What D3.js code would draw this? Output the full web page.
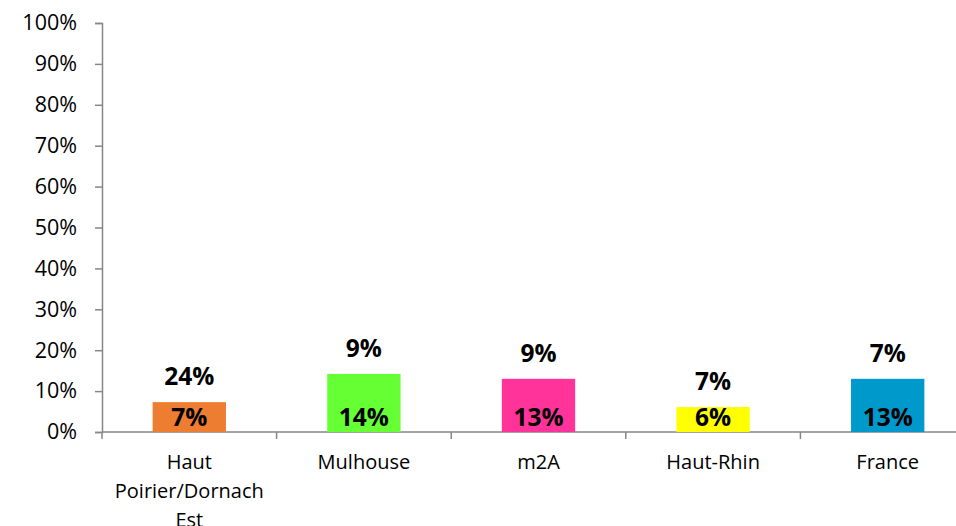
<!DOCTYPE html>
<html>
<head>
<meta charset="utf-8">
<script src="https://cdn.jsdelivr.net/npm/d3@7"></script>
<style>
  body { margin: 0; background: #fff; }
  svg { display: block; font-family: "Open Sans", sans-serif; }
</style>
</head>
<body>
<div id="chart"></div>
<script>
// data
const categories = ["Haut Poirier/Dornach Est", "Mulhouse", "m2A", "Haut-Rhin", "France"]
const barValues = [0.073, 0.142, 0.13, 0.061, 0.13]
const barLabels = ["7%", "14%", "13%", "6%", "13%"]
const topLabels = ["24%", "9%", "9%", "7%", "7%"]
const barColors = ["#ED7D31", "#66FF33", "#FF3399", "#FFFF00", "#0099CC"]
const yTicks = [0, 0.1, 0.2, 0.3, 0.4, 0.5, 0.6, 0.7, 0.8, 0.9, 1]

const width = 956, height = 526
const svg = d3.select("#chart").append("svg").attr("width", width).attr("height", height)

const x = d3.scaleBand().domain(categories).range([102, 975]).paddingInner(0).paddingOuter(0)
const y = d3.scaleLinear().domain([0, 1]).range([432, 23])
const barW = x.bandwidth() * 0.42
const axisColor = "#868686"

// y axis
const yAxis = svg.append("g").attr("transform", "translate(102,0)")
  .call(d3.axisLeft(y).tickValues(yTicks).tickFormat(d3.format(".0%")).tickSize(7).tickPadding(18))
yAxis.select(".domain").attr("stroke", axisColor).attr("stroke-width", 1.5)
yAxis.selectAll(".tick line").attr("stroke", axisColor).attr("stroke-width", 1.5)
yAxis.selectAll(".tick text").attr("font-size", 21.5).attr("fill", "#000").attr("font-family", "Open Sans")

// x axis
const xAxis = svg.append("g").attr("transform", "translate(0,432)")
xAxis.append("line").attr("x1", 102).attr("x2", width).attr("stroke", axisColor).attr("stroke-width", 1.5)
xAxis.selectAll(".xt")
  .data(categories.concat([null]))
  .join("line")
  .attr("x1", (d, i) => 102 + i * x.bandwidth())
  .attr("x2", (d, i) => 102 + i * x.bandwidth())
  .attr("y1", 0).attr("y2", 7)
  .attr("stroke", axisColor).attr("stroke-width", 1.5)

// category labels, wrapped like the original
const wrapped = { "Haut Poirier/Dornach Est": ["Haut", "Poirier/Dornach", "Est"] }
svg.selectAll(".cat")
  .data(categories)
  .join("text")
  .attr("class", "cat")
  .attr("text-anchor", "middle")
  .attr("font-size", 20)
  .attr("fill", "#000")
  .each(function (d) {
    const lines = wrapped[d] || [d]
    d3.select(this).selectAll("tspan")
      .data(lines)
      .join("tspan")
      .attr("x", x(d) + x.bandwidth() / 2)
      .attr("y", (l, i) => 469 + i * 29)
      .text(l => l)
  })

// bars
svg.selectAll(".bar")
  .data(categories)
  .join("rect")
  .attr("class", "bar")
  .attr("x", d => x(d) + (x.bandwidth() - barW) / 2)
  .attr("width", barW)
  .attr("y", (d, i) => y(barValues[i]))
  .attr("height", (d, i) => y(0) - y(barValues[i]))
  .attr("fill", (d, i) => barColors[i])

// value labels inside the bars
svg.selectAll(".inlab")
  .data(categories)
  .join("text")
  .attr("class", "inlab")
  .attr("x", d => x(d) + x.bandwidth() / 2)
  .attr("y", 426)
  .attr("text-anchor", "middle")
  .attr("font-size", 24.5)
  .attr("font-weight", "bold")
  .text((d, i) => barLabels[i])

// labels above the bars
svg.selectAll(".toplab")
  .data(categories)
  .join("text")
  .attr("class", "toplab")
  .attr("x", d => x(d) + x.bandwidth() / 2)
  .attr("y", (d, i) => y(barValues[i]) - 17)
  .attr("text-anchor", "middle")
  .attr("font-size", 24.5)
  .attr("font-weight", "bold")
  .text((d, i) => topLabels[i])
</script>
</body>
</html>
